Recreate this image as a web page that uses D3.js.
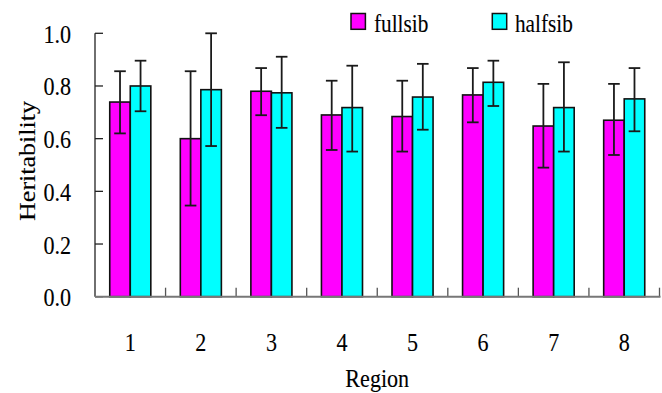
<!DOCTYPE html>
<html>
<head>
<meta charset="utf-8">
<script src="https://cdn.jsdelivr.net/npm/d3@7"></script>
<style>
  html, body { margin: 0; padding: 0; background: #fff; }
  svg { display: block; }
</style>
</head>
<body>
<svg id="chart" width="662" height="393"></svg>
<script>
// ---- data ----
const regions = ["1", "2", "3", "4", "5", "6", "7", "8"];
const seriesNames = ["fullsib", "halfsib"];
const fullsib      = [0.739, 0.600, 0.780, 0.690, 0.684, 0.766, 0.648, 0.670];
const fullsibLow   = [0.620, 0.346, 0.689, 0.557, 0.551, 0.662, 0.490, 0.538];
const fullsibHigh  = [0.856, 0.856, 0.868, 0.820, 0.820, 0.868, 0.808, 0.808];
const halfsib      = [0.800, 0.786, 0.774, 0.718, 0.758, 0.814, 0.718, 0.751];
const halfsibLow   = [0.704, 0.572, 0.641, 0.551, 0.634, 0.724, 0.551, 0.628];
const halfsibHigh  = [0.896, 1.000, 0.911, 0.877, 0.884, 0.896, 0.890, 0.868];
const yTicks = [0, 0.2, 0.4, 0.6, 0.8, 1.0];
const colors = ["#FF00FF", "#00FFFF"];

const series = [
  { name: seriesNames[0], values: fullsib, low: fullsibLow, high: fullsibHigh },
  { name: seriesNames[1], values: halfsib, low: halfsibLow, high: halfsibHigh }
];

// ---- layout ----
const FONT = "'Liberation Serif', 'Times New Roman', Times, serif";
const svg = d3.select("#chart");
const plotLeft = 95, plotRight = 659.5, plotTop = 33.3, plotBottom = 296.7;
const SX = 0.85; // horizontal text condensing

function styleText(sel, size) {
  return sel.attr("font-size", size).attr("font-family", FONT)
    .attr("fill", "#000").attr("stroke", "#000").attr("stroke-width", 0.12);
}

const x0 = d3.scaleBand().domain(regions).range([plotLeft, plotRight])
  .paddingInner(0.418).paddingOuter(0.209);
const x1 = d3.scaleBand().domain(seriesNames).range([0, x0.bandwidth()]);
const y = d3.scaleLinear().domain([0, 1]).range([plotBottom, plotTop]);
const color = d3.scaleOrdinal().domain(seriesNames).range(colors);

// y axis line and inward ticks
svg.append("line").attr("x1", plotLeft).attr("x2", plotLeft).attr("y1", y(1)).attr("y2", plotBottom)
  .attr("stroke", "#222").attr("stroke-width", 1.3);
svg.selectAll(".ytick").data(yTicks).enter().append("line")
  .attr("x1", plotLeft).attr("x2", plotLeft + 8)
  .attr("y1", d => y(d)).attr("y2", d => y(d))
  .attr("stroke", "#222").attr("stroke-width", 1.3);
styleText(svg.selectAll(".ylab").data(yTicks).enter().append("text")
  .attr("transform", d => `translate(71,${y(d) + 9.5}) scale(${SX},1)`)
  .attr("text-anchor", "end"), 26)
  .text(d => d3.format(".1f")(d));

// bars
const groups = svg.selectAll(".grp").data(regions).enter().append("g")
  .attr("transform", d => `translate(${x0(d)},0)`);

series.forEach((s, si) => {
  groups.append("rect")
    .attr("x", x1(s.name))
    .attr("width", x1.bandwidth())
    .attr("y", (d, i) => y(s.values[i]))
    .attr("height", (d, i) => plotBottom - y(s.values[i]))
    .attr("fill", color(s.name))
    .attr("stroke", "#111").attr("stroke-width", 1.6);
});

// x axis baseline and group-separator ticks
const step = x0.step();
const bounds = d3.range(regions.length + 1).map(i => plotLeft + i * step);
svg.selectAll(".xtick").data(bounds.slice(1)).enter().append("line")
  .attr("x1", d => d).attr("x2", d => d)
  .attr("y1", plotBottom).attr("y2", plotBottom - 9)
  .attr("stroke", "#555").attr("stroke-width", 1.3);
svg.append("line").attr("x1", plotLeft).attr("x2", plotRight + 1).attr("y1", plotBottom).attr("y2", plotBottom)
  .attr("stroke", "#777").attr("stroke-width", 2);

// error bars
series.forEach((s, si) => {
  const cx = r => x0(r) + x1(s.name) + x1.bandwidth() / 2;
  const eg = svg.append("g").attr("stroke", "#1a1a1a").attr("stroke-width", 1.8);
  eg.selectAll(".ev").data(regions).enter().append("line")
    .attr("x1", cx).attr("x2", cx)
    .attr("y1", (d, i) => y(s.low[i])).attr("y2", (d, i) => y(s.high[i]));
  eg.selectAll(".et").data(regions).enter().append("line")
    .attr("x1", d => cx(d) - 5.8).attr("x2", d => cx(d) + 5.8)
    .attr("y1", (d, i) => y(s.high[i])).attr("y2", (d, i) => y(s.high[i]));
  eg.selectAll(".eb").data(regions).enter().append("line")
    .attr("x1", d => cx(d) - 5.8).attr("x2", d => cx(d) + 5.8)
    .attr("y1", (d, i) => y(s.low[i])).attr("y2", (d, i) => y(s.low[i]));
});

// x labels
styleText(svg.selectAll(".xlab").data(regions).enter().append("text")
  .attr("transform", d => `translate(${x0(d) + x0.bandwidth() / 2},350.7) scale(${SX},1)`)
  .attr("text-anchor", "middle"), 26)
  .text(d => d);

// axis titles
styleText(svg.append("text")
  .attr("transform", `translate(${(plotLeft + plotRight) / 2},387.3) scale(${SX},1)`)
  .attr("text-anchor", "middle"), 26)
  .text("Region");
styleText(svg.append("text")
  .attr("transform", `translate(34.5,161) scale(${SX},1) rotate(-90)`)
  .attr("text-anchor", "middle"), 26)
  .text("Heritability");

// legend
const legendPos = [{ sx: 351, tx: 374 }, { sx: 492.3, tx: 515 }];
series.forEach((s, si) => {
  svg.append("rect").attr("x", legendPos[si].sx).attr("y", 13.5)
    .attr("width", 14.4).attr("height", 15.8)
    .attr("fill", color(s.name)).attr("stroke", "#111").attr("stroke-width", 1.5);
  styleText(svg.append("text")
    .attr("transform", `translate(${legendPos[si].tx},31.7) scale(${SX},1)`), 25)
    .text(s.name);
});
</script>
</body>
</html>
